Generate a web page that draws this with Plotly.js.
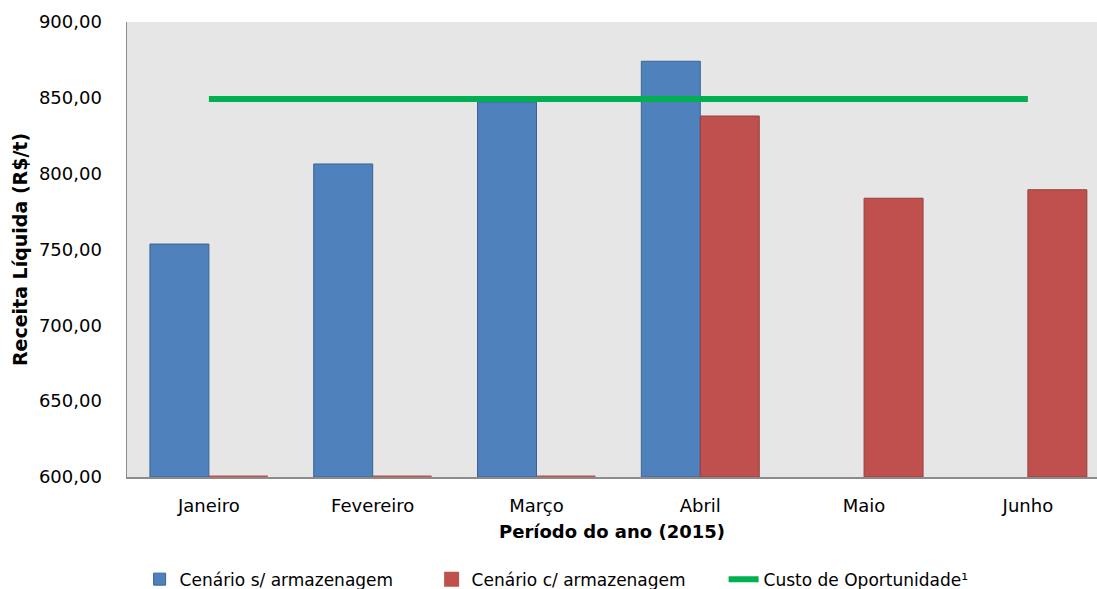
<!DOCTYPE html>
<html>
<head>
<meta charset="utf-8">
<script src="https://cdn.plot.ly/plotly-3.0.1.min.js"></script>
<style>
  html, body { margin: 0; padding: 0; background: #ffffff; }
  #chart { width: 1097px; height: 589px; }
</style>
</head>
<body>
<div id="chart"></div>
<script>
// ---- data ----
const months = ['Janeiro', 'Fevereiro', 'Março', 'Abril', 'Maio', 'Junho'];
const semArmazenagem = [753.6, 806.4, 847.3, 874.1, null, null];
const comArmazenagem = [0, 0, 0, 838.0, 783.8, 789.4];
const custoOportunidade = [849.2, 849.2, 849.2, 849.2, 849.2, 849.2];
const yTickVals = [600, 650, 700, 750, 800, 850, 900];
const yTickText = ['600,00', '650,00', '700,00', '750,00', '800,00', '850,00', '900,00'];
const seriesNames = ['Cenário s/ armazenagem', 'Cenário c/ armazenagem', 'Custo de Oportunidade¹'];

const yMin = 600, yMax = 900;
const FONT = 'DejaVu Sans, Verdana, sans-serif';

// Bars start at the axis minimum (as the original spreadsheet chart does);
// values at or below the minimum collapse to a thin line on the axis.
function barHeights(vals) { return vals.map(v => v == null ? null : Math.max(v - yMin, 0)); }
function lineWidths(vals, w) { return vals.map(v => (v != null && v <= yMin) ? 3 : w); }
function lineColors(vals, fill, edge) { return vals.map(v => (v != null && v <= yMin) ? fill : edge); }

const traces = [
  {
    type: 'bar', name: seriesNames[0], x: months,
    y: barHeights(semArmazenagem), base: yMin,
    marker: { color: '#4F81BD',
      line: { color: lineColors(semArmazenagem, '#4F81BD', '#3A6395'), width: lineWidths(semArmazenagem, 1) } },
    hoverinfo: 'skip'
  },
  {
    type: 'bar', name: seriesNames[1], x: months,
    y: barHeights(comArmazenagem), base: yMin,
    marker: { color: '#C0504D',
      line: { color: lineColors(comArmazenagem, '#C0504D', '#93403D'), width: lineWidths(comArmazenagem, 1) } },
    hoverinfo: 'skip'
  },
  {
    type: 'scatter', mode: 'lines', name: seriesNames[2], x: months,
    y: custoOportunidade,
    line: { color: '#00B050', width: 6 },
    hoverinfo: 'skip'
  }
];

const layout = {
  width: 1097, height: 589,
  margin: { l: 127, r: 0, t: 22, b: 112 },
  paper_bgcolor: '#ffffff',
  plot_bgcolor: '#E6E6E6',
  font: { family: FONT, size: 18, color: '#000000' },
  barmode: 'group',
  bargap: 0.28,
  bargroupgap: 0,
  showlegend: true,
  legend: {
    orientation: 'h', x: 0.013, xanchor: 'left',
    yref: 'container', y: 0.016, yanchor: 'middle',
    font: { family: FONT, size: 17, color: '#000000' },
    entrywidth: 247, entrywidthmode: 'pixels',
    itemwidth: 30, traceorder: 'normal', bgcolor: 'rgba(0,0,0,0)'
  },
  xaxis: {
    type: 'category',
    range: [-0.5, 5.422],
    showgrid: false, zeroline: false,
    showline: true, linecolor: '#8C8C8C', linewidth: 1.5,
    ticks: '', ticklabelstandoff: 12,
    tickfont: { family: FONT, size: 18, color: '#000000' },
    title: { text: '<b>Período do ano (2015)</b>', font: { family: FONT, size: 18, color: '#000000' }, standoff: 10 }
  },
  yaxis: {
    range: [yMin, yMax],
    tickvals: yTickVals, ticktext: yTickText,
    showgrid: false, zeroline: false,
    showline: true, linecolor: '#8C8C8C', linewidth: 1.5,
    ticks: '', ticklabelstandoff: 20,
    tickfont: { family: FONT, size: 18, color: '#000000' },
    title: { text: '<b>Receita Líquida (R$/t)</b>', font: { family: FONT, size: 19, color: '#000000' }, standoff: 6 }
  }
};

Plotly.newPlot('chart', traces, layout, { displayModeBar: false, staticPlot: true });
</script>
</body>
</html>
